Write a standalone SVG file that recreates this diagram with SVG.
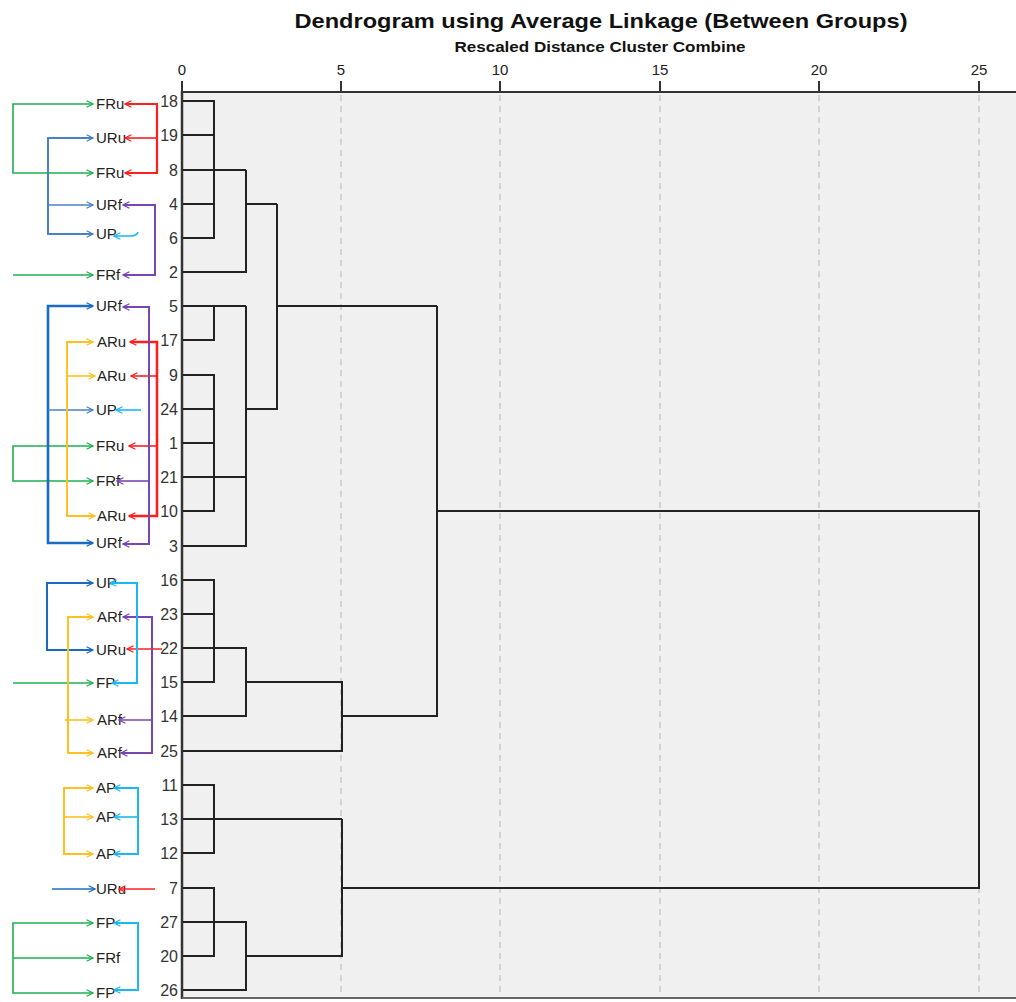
<svg xmlns="http://www.w3.org/2000/svg" width="1016" height="1002" viewBox="0 0 1016 1002">
<style>
.title{font-family:"Liberation Sans",Arial,sans-serif;font-weight:bold;font-size:21px;fill:#111}
.sub{font-family:"Liberation Sans",Arial,sans-serif;font-weight:bold;font-size:14px;fill:#111}
.ax{font-family:"Liberation Sans",Arial,sans-serif;font-size:15px;fill:#222;text-anchor:middle}
.rn{font-family:"Liberation Sans",Arial,sans-serif;font-size:16px;fill:#333;text-anchor:end}
.lb{font-family:"Liberation Sans",Arial,sans-serif;font-size:15px;fill:#222}
.tree{fill:none;stroke:#222;stroke-width:2}
.grid{stroke:#c8c8c8;stroke-width:1.5;stroke-dasharray:6 5}
.c{fill:none;stroke-width:1.6}
.g{stroke:#1fb052;marker-end:url(#mg)}
.gs{marker-start:url(#mg)}
.b{stroke:#4a80c4;marker-end:url(#mb)}
.bs{marker-start:url(#mb)}
.bd{stroke:#1a6cc2;marker-end:url(#mbd)}
.bds{marker-start:url(#mbd)}
.r{stroke:#ff1f1f;marker-end:url(#mr)}
.rs{marker-start:url(#mr)}
.p{stroke:#7a45b2;marker-end:url(#mp)}
.ps{marker-start:url(#mp)}
.y{stroke:#ffc020;marker-end:url(#my)}
.ys{marker-start:url(#my)}
.cy{stroke:#1cb6f0;marker-end:url(#mc)}
.cys{marker-start:url(#mc)}
</style>
<defs>
<marker id="mg" viewBox="0 0 10 10" refX="9" refY="5" markerWidth="8" markerHeight="8" markerUnits="userSpaceOnUse" orient="auto-start-reverse"><path d="M1,1 L9,5 L1,9" fill="none" stroke="#1fb052" stroke-width="1.6"/></marker>
<marker id="mb" viewBox="0 0 10 10" refX="9" refY="5" markerWidth="8" markerHeight="8" markerUnits="userSpaceOnUse" orient="auto-start-reverse"><path d="M1,1 L9,5 L1,9" fill="none" stroke="#4a80c4" stroke-width="1.6"/></marker>
<marker id="mbd" viewBox="0 0 10 10" refX="9" refY="5" markerWidth="8" markerHeight="8" markerUnits="userSpaceOnUse" orient="auto-start-reverse"><path d="M1,1 L9,5 L1,9" fill="none" stroke="#1a6cc2" stroke-width="1.6"/></marker>
<marker id="mr" viewBox="0 0 10 10" refX="9" refY="5" markerWidth="8" markerHeight="8" markerUnits="userSpaceOnUse" orient="auto-start-reverse"><path d="M1,1 L9,5 L1,9" fill="none" stroke="#ff1f1f" stroke-width="1.6"/></marker>
<marker id="mp" viewBox="0 0 10 10" refX="9" refY="5" markerWidth="8" markerHeight="8" markerUnits="userSpaceOnUse" orient="auto-start-reverse"><path d="M1,1 L9,5 L1,9" fill="none" stroke="#7a45b2" stroke-width="1.6"/></marker>
<marker id="my" viewBox="0 0 10 10" refX="9" refY="5" markerWidth="8" markerHeight="8" markerUnits="userSpaceOnUse" orient="auto-start-reverse"><path d="M1,1 L9,5 L1,9" fill="none" stroke="#ffc020" stroke-width="1.6"/></marker>
<marker id="mc" viewBox="0 0 10 10" refX="9" refY="5" markerWidth="8" markerHeight="8" markerUnits="userSpaceOnUse" orient="auto-start-reverse"><path d="M1,1 L9,5 L1,9" fill="none" stroke="#1cb6f0" stroke-width="1.6"/></marker>
</defs>
<rect width="1016" height="1002" fill="#ffffff"/>
<g id="title">
<text class="title" x="601" y="28" text-anchor="middle" textLength="613" lengthAdjust="spacingAndGlyphs">Dendrogram using Average Linkage (Between Groups)</text>
<text class="sub" x="600" y="52" text-anchor="middle" textLength="291" lengthAdjust="spacingAndGlyphs">Rescaled Distance Cluster Combine</text>
</g>
<g id="plot">
<rect x="182" y="93" width="834" height="905" fill="#f0f0f0"/>
<line class="grid" x1="341" y1="95" x2="341" y2="997"/>
<line class="grid" x1="500" y1="95" x2="500" y2="997"/>
<line class="grid" x1="660" y1="95" x2="660" y2="997"/>
<line class="grid" x1="819" y1="95" x2="819" y2="997"/>
<line class="grid" x1="979" y1="95" x2="979" y2="997"/>
<line x1="181" y1="92" x2="1016" y2="92" stroke="#333" stroke-width="2"/>
<path d="M182,81 V92 M341,81 V92 M500,81 V92 M660,81 V92 M819,81 V92 M979,81 V92" stroke="#333" stroke-width="2"/>
<line x1="182" y1="91" x2="182" y2="999" stroke="#333" stroke-width="2.5"/>
<line x1="182" y1="998" x2="1016" y2="998" stroke="#666" stroke-width="2"/>
<text class="ax" x="182" y="75">0</text>
<text class="ax" x="341" y="75">5</text>
<text class="ax" x="500" y="75">10</text>
<text class="ax" x="660" y="75">15</text>
<text class="ax" x="819" y="75">20</text>
<text class="ax" x="979" y="75">25</text>
</g>
<g id="tree">
<path class="tree" d="M183,101 H214 V238 H183 M183,135 H214 M183,204 H214 M183,170 H246 M183,272 H246 V170 M246,204 H277"/>
<path class="tree" d="M183,306 H246 M183,340 H214 V306 M183,375 H214 V511 H183 M183,409 H214 M183,443 H214 M183,477 H246 M183,546 H246 V306 M246,409 H277 V204 M277,306 H437"/>
<path class="tree" d="M183,580 H214 V682 H183 M183,614 H214 M183,648 H246 V716 H183 M246,682 H342 V751 H183 M342,716 H437 V306"/>
<path class="tree" d="M437,511 H979 V888 H342"/>
<path class="tree" d="M183,785 H214 V853 H183 M183,819 H342 M183,888 H214 V956 H183 M183,922 H246 V990 H183 M246,956 H342 V819"/>
</g>
<g id="rownums">
<text class="rn" x="178" y="107">18</text>
<text class="rn" x="178" y="141">19</text>
<text class="rn" x="178" y="176">8</text>
<text class="rn" x="178" y="210">4</text>
<text class="rn" x="178" y="244">6</text>
<text class="rn" x="178" y="278">2</text>
<text class="rn" x="178" y="312">5</text>
<text class="rn" x="178" y="346">17</text>
<text class="rn" x="178" y="381">9</text>
<text class="rn" x="178" y="415">24</text>
<text class="rn" x="178" y="449">1</text>
<text class="rn" x="178" y="483">21</text>
<text class="rn" x="178" y="517">10</text>
<text class="rn" x="178" y="552">3</text>
<text class="rn" x="178" y="586">16</text>
<text class="rn" x="178" y="620">23</text>
<text class="rn" x="178" y="654">22</text>
<text class="rn" x="178" y="688">15</text>
<text class="rn" x="178" y="722">14</text>
<text class="rn" x="178" y="757">25</text>
<text class="rn" x="178" y="791">11</text>
<text class="rn" x="178" y="825">13</text>
<text class="rn" x="178" y="859">12</text>
<text class="rn" x="178" y="894">7</text>
<text class="rn" x="178" y="928">27</text>
<text class="rn" x="178" y="962">20</text>
<text class="rn" x="178" y="996">26</text>
</g>
<g id="labels">
<text class="lb" x="96" y="109">FRu</text>
<text class="lb" x="96" y="143">URu</text>
<text class="lb" x="96" y="178">FRu</text>
<text class="lb" x="96" y="210">URf</text>
<text class="lb" x="96" y="239">UP</text>
<text class="lb" x="96" y="280">FRf</text>
<text class="lb" x="96" y="311">URf</text>
<text class="lb" x="97" y="347">ARu</text>
<text class="lb" x="97" y="381">ARu</text>
<text class="lb" x="96" y="415">UP</text>
<text class="lb" x="96" y="451">FRu</text>
<text class="lb" x="96" y="486">FRf</text>
<text class="lb" x="97" y="521">ARu</text>
<text class="lb" x="96" y="548">URf</text>
<text class="lb" x="96" y="588">UP</text>
<text class="lb" x="97" y="622">ARf</text>
<text class="lb" x="96" y="655">URu</text>
<text class="lb" x="96" y="688">FP</text>
<text class="lb" x="97" y="725">ARf</text>
<text class="lb" x="97" y="758">ARf</text>
<text class="lb" x="96" y="793">AP</text>
<text class="lb" x="96" y="822">AP</text>
<text class="lb" x="96" y="859">AP</text>
<text class="lb" x="96" y="894">URu</text>
<text class="lb" x="96" y="928">FP</text>
<text class="lb" x="96" y="963">FRf</text>
<text class="lb" x="96" y="998">FP</text>
</g>
<g id="connectors">
<path class="c g gs" d="M93,104 H13 V173 H93"/>
<path class="c g" d="M13,275 H93"/>
<path class="c g gs" d="M93,446 H13 V481 H93"/>
<path class="c g" d="M13,683 H93"/>
<path class="c g gs" d="M93,923 H13 V993 H93"/>
<path class="c g" d="M13,958 H93"/>
<path class="c b bs" d="M93,138 H48 V234 H93" style="stroke-width:2"/>
<path class="c b" d="M48,205 H93"/>
<path class="c bd bds" d="M93,306 H48 V543 H93" style="stroke-width:2.6"/>
<path class="c b" d="M48,410 H93"/>
<path class="c bd bds" d="M93,583 H47 V650 H93" style="stroke-width:2"/>
<path class="c bd" d="M52,889 H95"/>
<path class="c r rs" d="M125,104 H157 V173 H125" style="stroke-width:2.2"/>
<path class="c r" d="M157,138 H125"/>
<path class="c r rs" d="M130,342 H157 V516 H129" style="stroke-width:2.6"/>
<path class="c r" d="M157,376 H131"/>
<path class="c r" d="M157,446 H129"/>
<path class="c r" d="M162,649 H127"/>
<path class="c r" d="M155,889 H119"/>
<path class="c p ps" d="M123,205 H155 V275 H123" style="stroke-width:2"/>
<path class="c p ps" d="M123,307 H149 V544 H123" style="stroke-width:2"/>
<path class="c p" d="M149,481 H117"/>
<path class="c p ps" d="M123,617 H152 V753 H121" style="stroke-width:2"/>
<path class="c p" d="M152,720 H119"/>
<path class="c y ys" d="M93,342 H67 V516 H95" style="stroke-width:2"/>
<path class="c y" d="M67,376 H95"/>
<path class="c y ys" d="M93,617 H68 V753 H93" style="stroke-width:2"/>
<path class="c y" d="M65,720 H93"/>
<path class="c y ys" d="M93,788 H64 V854 H93" style="stroke-width:2"/>
<path class="c y" d="M64,817 H93"/>
<path class="c cy" d="M138,232 Q137,236 130,236 H114"/>
<path class="c cy" d="M141,410 H116"/>
<path class="c cy cys" d="M110,583 H137 V683 H112" style="stroke-width:2"/>
<path class="c cy cys" d="M114,788 H138 V854 H114" style="stroke-width:2"/>
<path class="c cy" d="M138,817 H114"/>
<path class="c cy cys" d="M114,923 H138 V990 H114" style="stroke-width:2"/>
</g>
</svg>
